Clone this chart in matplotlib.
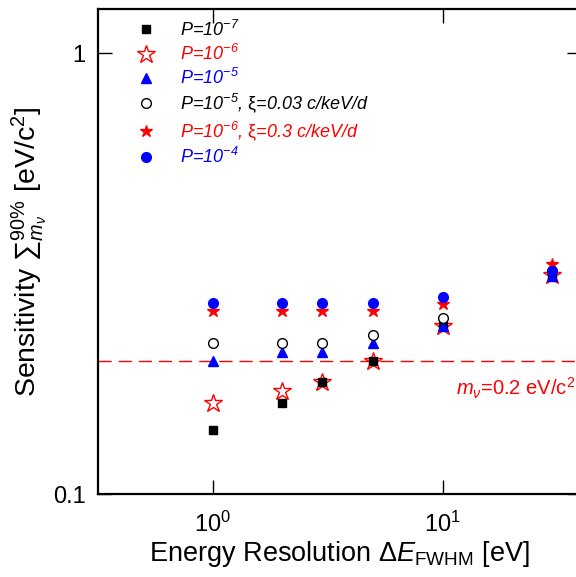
import numpy as np
import matplotlib
matplotlib.use("Agg")
import matplotlib.pyplot as plt
from matplotlib.ticker import FixedLocator, NullLocator

plt.rcParams['font.family'] = ['Liberation Sans', 'DejaVu Sans']
plt.rcParams['mathtext.fontset'] = 'custom'
plt.rcParams['mathtext.rm'] = 'Liberation Sans'
plt.rcParams['mathtext.it'] = 'Liberation Sans:italic'
plt.rcParams['mathtext.sf'] = 'Liberation Sans:italic'

# Energieauflösung [eV]
energy_res = [1, 2, 3, 5, 10, 30]

# Sensitivität [eV/c^2] je Serie
sens_p7 = [0.140, 0.161, 0.180, 0.200, 0.240, 0.314]
sens_p6 = [0.161, 0.171, 0.180, 0.200, 0.241, 0.314]
sens_p5 = [0.200, 0.210, 0.210, 0.220, 0.240, 0.313]
sens_p5_bg = [0.220, 0.220, 0.220, 0.230, 0.251, 0.320]
sens_p6_bg = [0.260, 0.260, 0.260, 0.260, 0.270, 0.332]
sens_p4 = [0.271, 0.271, 0.271, 0.271, 0.280, 0.321]

labels = [
    r"P=10$^{\mathsf{-7}}$",
    r"P=10$^{\mathsf{-6}}$",
    r"P=10$^{\mathsf{-5}}$",
    r"P=10$^{\mathsf{-5}}$, $\mathrm{\xi}$=0.03 c/keV/d",
    r"P=10$^{\mathsf{-6}}$, $\mathrm{\xi}$=0.3 c/keV/d",
    r"P=10$^{\mathsf{-4}}$",
]
m_nu_ref = 0.2

fig = plt.figure(figsize=(5.76, 5.77), dpi=100)
ax = fig.add_axes([0.170, 0.1438, 0.8387, 0.8406])

ax.axhline(m_nu_ref, color='red', lw=1.0, dashes=(9.5, 5), zorder=1)

ax.plot(energy_res, sens_p6, ls='none', marker='*', ms=13.5, mfc='white', mec='red',
        mew=1.0, label=labels[1], zorder=2)
ax.plot(energy_res, sens_p7, ls='none', marker='s', ms=5.5, color='black',
        label=labels[0], zorder=3)
ax.plot(energy_res, sens_p5, ls='none', marker='^', ms=6.5, color='blue',
        label=labels[2], zorder=3)
ax.plot(energy_res, sens_p5_bg, ls='none', marker='o', ms=7, mfc='white', mec='black',
        mew=1.0, label=labels[3], zorder=3)
ax.plot(energy_res, sens_p6_bg, ls='none', marker='*', ms=9, color='red',
        label=labels[4], zorder=3)
ax.plot(energy_res, sens_p4, ls='none', marker='o', ms=7, color='blue',
        label=labels[5], zorder=3)

ax.set_xscale('log')
ax.set_yscale('log')
ax.set_xlim(10 ** -0.5, 40)
ax.set_ylim(0.1, 1.26)

ax.xaxis.set_major_locator(FixedLocator([1, 10]))
ax.xaxis.set_minor_locator(NullLocator())
ax.set_xticklabels([r"$\mathdefault{10^{0}}$", r"$\mathdefault{10^{1}}$"])
ax.yaxis.set_major_locator(FixedLocator([0.1, 1]))
ax.yaxis.set_minor_locator(NullLocator())
ax.set_yticklabels(["0.1", "1"])

ax.tick_params(which='major', direction='in', length=10, width=1.0,
               top=True, right=True, labelsize=17)
ax.tick_params(axis='y', pad=9)
ax.tick_params(axis='x', pad=13)
for s in ax.spines.values():
    s.set_linewidth(1.6)

ax.set_xlabel(r"Energy Resolution $\Delta E_{\mathrm{FWHM}}$ [eV]", fontsize=19.5, labelpad=1)
ax.set_ylabel(r"Sensitivity ${\sum}^{90\%}_{m_\nu}$ [eV/c$^2$]", fontsize=20.5, labelpad=3)

ax.text(0.999, 0.326, r"$m_\nu$=0.2 eV/c$^2$", transform=fig.transFigure,
        color='red', fontsize=14.5, ha='right', va='center')

handles, lbls = ax.get_legend_handles_labels()
hmap = dict(zip(lbls, handles))
leg = ax.legend([hmap[l] for l in labels], labels, loc='upper left', frameon=False,
                fontsize=13, handlelength=1.0, handletextpad=1.4,
                labelspacing=0.22, borderaxespad=0.3, bbox_to_anchor=(0.054, 1.004))
colors = ['black', 'red', 'blue', 'black', 'red', 'blue']
for t, c in zip(leg.get_texts(), colors):
    t.set_color(c)
    t.set_fontstyle('italic')

fig.savefig("out.png", dpi=100)
